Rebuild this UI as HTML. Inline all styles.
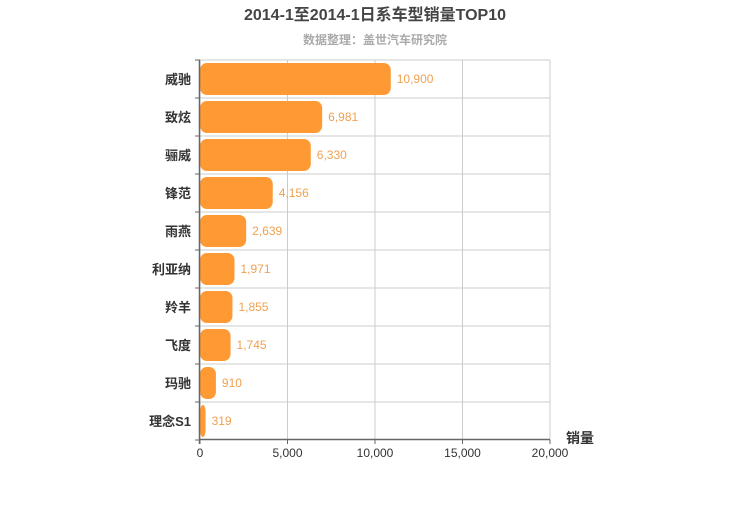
<!DOCTYPE html>
<html><head><meta charset="utf-8"><style>
body{margin:0;background:#fff;}
svg text{font-family:"Liberation Sans","Noto Sans CJK SC",sans-serif;}
</style></head><body>
<svg id="c" width="750" height="500"></svg>
<script>
const categories=["威驰","致炫","威驰","锋范","雨燕","利亚纳","羚羊","飞度","玛驰","理念S1"];
categories[2]="雅力士";
const values=[10900,6981,6330,4156,2639,1971,1855,1745,910,319];
const valueLabels=["10,900","6,981","6,330","4,156","2,639","1,971","1,855","1,745","910","319"];
const xTicks=[0,5000,10000,15000,20000];
const xTickLabels=["0","5,000","10,000","15,000","20,000"];
categories[2]="骊威";
const NS="http://www.w3.org/2000/svg";
const svg=document.getElementById('c');
const L=200,R=550,T=60,B=440,max=20000;
const x=v=>L+(R-L)*v/max;
const rowH=(B-T)/categories.length;
const y=i=>T+rowH*i;
function mk(t,a,txt){const e=document.createElementNS(NS,t);for(const k in a)e.setAttribute(k,a[k]);if(txt!==undefined)e.textContent=txt;svg.appendChild(e);return e;}
let e;
e=mk('text',{x:375,y:20,'text-anchor':'middle','font-size':16,'font-weight':'bold',fill:'#444'},'2014-1至2014-1日系车型销量TOP10');


e=mk('text',{x:375,y:44,'text-anchor':'middle','font-size':12,'font-weight':'bold',fill:'#aaa'},'数据整理：盖世汽车研究院');


xTicks.forEach((t,i)=>{
 e=mk('line',{x1:x(t),x2:x(t),y1:T,y2:B,stroke:'#ccc','stroke-width':1});
 
 
 e=mk('text',{x:x(t),y:457,'text-anchor':'middle','font-size':12,fill:'#333'},xTickLabels[i]);
 
 
});
categories.forEach((c,i)=>{
 e=mk('line',{x1:L,x2:R,y1:y(i),y2:y(i),stroke:'#ccc','stroke-width':1});
 
 
 e=mk('line',{x1:195,x2:L,y1:y(i),y2:y(i),stroke:'#666','stroke-width':1});
 
 
 e=mk('rect',{x:L,y:y(i)+3,width:Math.max(x(values[i])-L,1),height:rowH-6,rx:7,ry:7,fill:'#ff9933'});
 
 
 e=mk('text',{x:x(values[i])+6,y:y(i)+rowH/2+4,'font-size':12,fill:'#f0a050'},valueLabels[i]);
 
 
 e=mk('text',{x:191,y:y(i)+rowH/2+5,'text-anchor':'end','font-size':13,'font-weight':'bold',fill:'#333'},c);
 
 
});
e=mk('line',{x1:195,x2:L,y1:B,y2:B,stroke:'#666'});


e=mk('line',{x1:L-0.5,x2:L-0.5,y1:T,y2:B+4,stroke:'#666','stroke-width':1.5});


e=mk('line',{x1:L-1,x2:R,y1:B-0.5,y2:B-0.5,stroke:'#666','stroke-width':1.5});


xTicks.forEach(t=>{
 e=mk('line',{x1:x(t),x2:x(t),y1:B,y2:B+4,stroke:'#666'});
 
 
});
e=mk('text',{x:566,y:443,'font-size':14,'font-weight':'bold',fill:'#333'},'销量');


</script>
</body></html>
